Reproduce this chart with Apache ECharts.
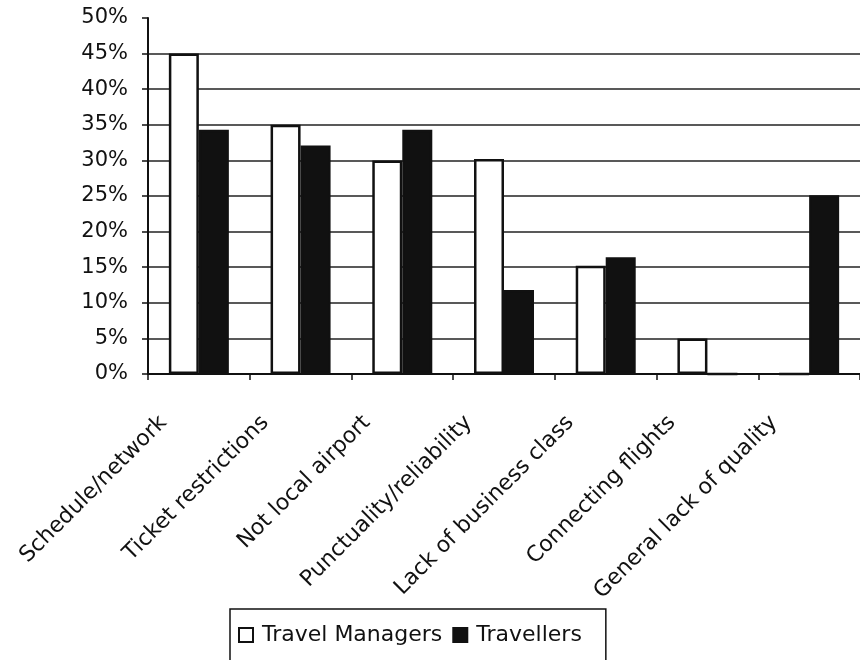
<!DOCTYPE html>
<html>
<head>
<meta charset="utf-8">
<script src="https://cdn.jsdelivr.net/npm/echarts@6/dist/echarts.min.js"></script>
<style>
    html, body { margin: 0; padding: 0; background: #fff; }
    #container { width: 860px; height: 660px; }
</style>
</head>
<body>
<div id="container"></div>
<script>
// 类别和数值, 从图上读的
var categories = [
    'Schedule/network',
    'Ticket restrictions',
    'Not local airport',
    'Punctuality/reliability',
    'Lack of business class',
    'Connecting flights',
    'General lack of quality',
]
var travelManagers = [45, 35, 30, 30.2, 15.2, 5, 0]
var travellers = [34.3, 32.1, 34.3, 11.8, 16.4, 0, 25.1]

var fontName = 'DejaVu Sans'

const chartInit = function () {
    var myChart = echarts.init(document.getElementById('container'))

    var option = {
        animation: false,
        backgroundColor: '#fff',
        grid: {
            left: 148,
            top: 18,
            width: 714,
            height: 356,
        },
        legend: {
            left: 230,
            top: 609,
            orient: 'horizontal',
            padding: [15, 24, 40, 8],
            borderColor: '#111',
            borderWidth: 1.5,
            itemWidth: 14,
            itemHeight: 14,
            itemGap: 10,
            icon: 'rect',
            textStyle: {
                fontFamily: fontName,
                fontSize: 22,
                color: '#111',
                padding: [0, 0, 0, 4],
            },
            data: ['Travel Managers', 'Travellers'],
        },
        xAxis: {
            type: 'category',
            data: categories,
            axisLine: { lineStyle: { color: '#111', width: 2 } },
            axisTick: { show: true, length: 6, lineStyle: { color: '#111', width: 1.5 } },
            axisLabel: {
                interval: 0,
                rotate: 45,
                margin: 10,
                padding: [0, 50, 0, 0],
                fontFamily: fontName,
                fontSize: 22,
                color: '#111',
            },
            splitLine: { show: false },
        },
        yAxis: {
            type: 'value',
            min: 0,
            max: 50,
            interval: 5,
            axisLine: { show: true, lineStyle: { color: '#111', width: 2 } },
            axisTick: { show: true, length: 6, lineStyle: { color: '#111', width: 1.5 } },
            axisLabel: {
                formatter: '{value}%',
                margin: 20,
                fontFamily: fontName,
                fontSize: 21,
                color: '#111',
            },
            splitLine: {
                show: true,
                showMaxLine: false,
                lineStyle: { color: '#222', width: 1.5 },
            },
        },
        series: [
            {
                name: 'Travel Managers',
                type: 'bar',
                barWidth: 30,
                barGap: '0%',
                data: travelManagers,
                itemStyle: { color: '#fff', borderColor: '#111', borderWidth: 2.5 },
            },
            {
                name: 'Travellers',
                type: 'bar',
                barWidth: 30,
                data: travellers,
                itemStyle: { color: '#111', borderColor: '#111', borderWidth: 2.5 },
            },
        ],
    }

    myChart.setOption(option, true)
}

chartInit()
</script>
</body>
</html>
